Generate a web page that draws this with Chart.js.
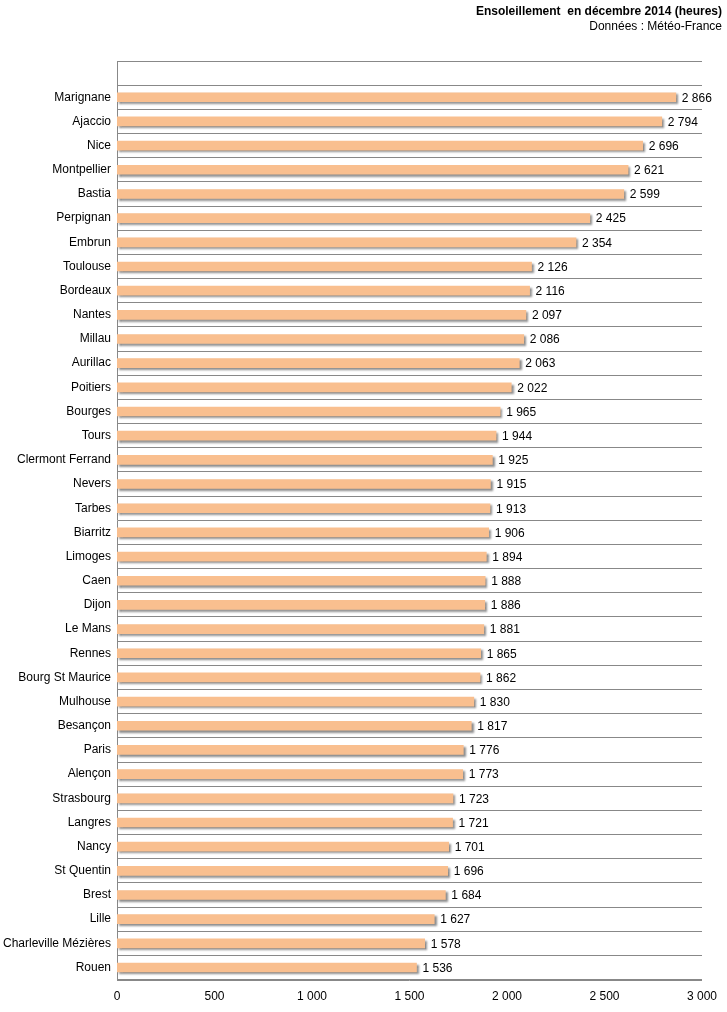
<!DOCTYPE html>
<html><head><meta charset="utf-8">
<script src="https://cdn.jsdelivr.net/npm/chart.js@4/dist/chart.umd.min.js"></script>
<style>html,body{margin:0;padding:0;background:#fff}#w{position:relative;width:727px;height:1012px}
.t{position:absolute;right:5px;font-family:"Liberation Sans",Arial,sans-serif;font-size:12px;color:#000;text-align:right}</style>
</head><body><div id="w">
<div class="t" style="top:4px;font-weight:bold">Ensoleillement&nbsp; en décembre 2014 (heures)</div>
<div class="t" style="top:19px">Données : Météo-France</div>
<canvas id="c" width="727" height="1012"></canvas></div>
<script>
const cities = ["Marignane","Ajaccio","Nice","Montpellier","Bastia","Perpignan","Embrun","Toulouse","Bordeaux","Nantes","Millau","Aurillac","Poitiers","Bourges","Tours","Clermont Ferrand","Nevers","Tarbes","Biarritz","Limoges","Caen","Dijon","Le Mans","Rennes","Bourg St Maurice","Mulhouse","Besançon","Paris","Alençon","Strasbourg","Langres","Nancy","St Quentin","Brest","Lille","Charleville Mézières","Rouen"];
const hours = [2866,2794,2696,2621,2599,2425,2354,2126,2116,2097,2086,2063,2022,1965,1944,1925,1915,1913,1906,1894,1888,1886,1881,1865,1862,1830,1817,1776,1773,1723,1721,1701,1696,1684,1627,1578,1536];
const xTicks = [0,500,1000,1500,2000,2500,3000];
const fmt = v => String(v).replace(/\B(?=(\d{3})+(?!\d))/g, " ");
const FONT = '"Liberation Sans", Arial, sans-serif';
const labels = [""].concat(cities);
const data = [null].concat(hours);
const shadowPlugin = {
  id:'sh',
  beforeDatasetDraw(ch){const c=ch.ctx;c.save();c.shadowColor='rgba(0,0,0,0.45)';c.shadowOffsetX=2;c.shadowOffsetY=2;c.shadowBlur=2;},
  afterDatasetDraw(ch){ch.ctx.restore();},
  afterDatasetsDraw(ch){
    const c=ch.ctx;c.save();c.font='12px '+FONT;c.fillStyle='#000';c.textBaseline='middle';
    ch.getDatasetMeta(0).data.forEach((el,i)=>{ if(data[i]==null)return; c.fillText(fmt(data[i]), el.x+6, el.y+1);});
    const a=ch.chartArea;c.strokeStyle='#888';c.lineWidth=1;c.beginPath();c.moveTo(a.left,Math.round(a.bottom)+0.5);c.lineTo(a.right,Math.round(a.bottom)+0.5);c.stroke();
    c.restore();
  }
};
new Chart(document.getElementById('c'),{
  type:'bar',
  data:{labels:labels,datasets:[{data:data,backgroundColor:'#F9BF8F',barThickness:9,borderWidth:0}]},
  options:{indexAxis:'y',responsive:false,animation:false,
    layout:{padding:{top:61,right:18,bottom:-2,left:0}},
    plugins:{legend:{display:false},tooltip:{enabled:false}},
    scales:{
      x:{min:0,max:3000,afterBuildTicks(a){a.ticks=xTicks.map(v=>({value:v}));},
        grid:{display:false,drawTicks:false},border:{display:false},
        ticks:{padding:10,maxRotation:0,color:'#000',font:{family:FONT,size:12},callback:v=>fmt(v)}},
      y:{grid:{offset:true,color:'#888',drawTicks:false},border:{display:true,color:'#888'},
        afterFit(a){a.width=117;},
        ticks:{padding:6,color:'#000',font:{family:FONT,size:12}}}
    }
  },
  plugins:[shadowPlugin]
});
</script></body></html>
